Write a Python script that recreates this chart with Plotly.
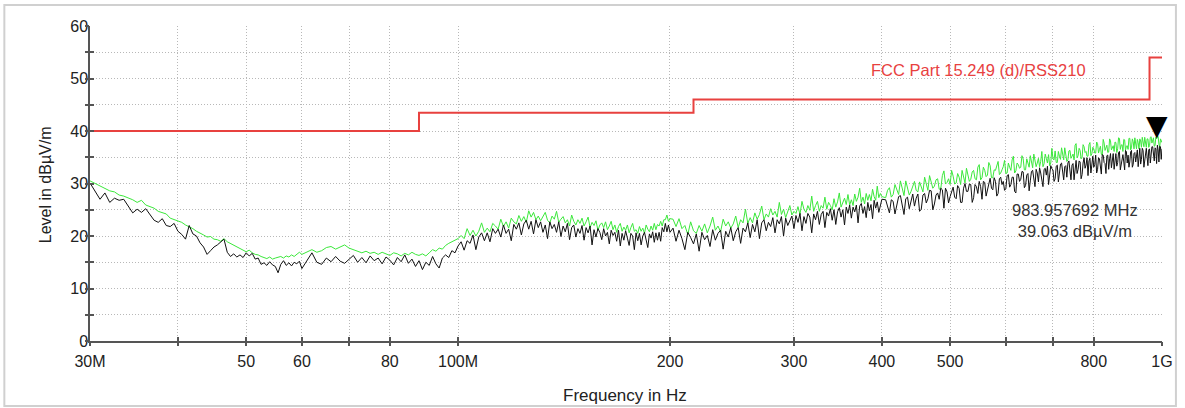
import math
import plotly.graph_objects as go

# ---- sweep frequencies (MHz), split into bands ----
FREQ_BAND1 = [30, 30.5, 31, 31.5, 32, 32.5, 33, 33.5, 34, 34.5,
              35, 35.5, 36, 36.5, 37, 37.5, 38, 38.5, 39, 39.5,
              40, 40.5, 41, 41.5, 42, 42.5, 43, 43.5, 44, 44.5,
              45, 45.5, 46, 46.5, 47, 47.5, 48, 48.5, 49, 49.5,
              50, 50.5, 51, 51.5, 52, 52.5, 53, 53.5, 54, 54.5,
              55, 55.5, 56, 56.5, 57, 57.5, 58, 58.5, 59, 59.5,
              60]
FREQ_BAND2 = [61, 62, 63, 64, 65, 66, 67, 68, 69, 70,
              71, 72, 73, 74, 75, 76, 77, 78, 79, 80,
              81, 82, 83, 84, 85, 86, 87, 88, 89, 90,
              91, 92, 93, 94, 95, 96, 97, 98, 99, 100]
FREQ_BAND3 = [101, 102, 103, 104, 105, 106, 107, 108, 109, 110,
              111, 112, 113, 114, 115, 116, 117, 118, 119, 120,
              121, 122, 123, 124, 125, 126, 127, 128, 129, 130,
              131, 132, 133, 134, 135, 136, 137, 138, 139, 140,
              141, 142, 143, 144, 145, 146, 147, 148, 149, 150,
              151, 152, 153, 154, 155, 156, 157, 158, 159, 160,
              161, 162, 163, 164, 165, 166, 167, 168, 169, 170,
              171, 172, 173, 174, 175, 176, 177, 178, 179, 180,
              181, 182, 183, 184, 185, 186, 187, 188, 189, 190,
              191, 192, 193, 194, 195, 196, 197, 198, 199, 200]
FREQ_BAND4 = [202, 204, 206, 208, 210, 212, 214, 216, 218, 220,
              222, 224, 226, 228, 230, 232, 234, 236, 238, 240,
              242, 244, 246, 248, 250, 252, 254, 256, 258, 260,
              262, 264, 266, 268, 270, 272, 274, 276, 278, 280,
              282, 284, 286, 288, 290, 292, 294, 296, 298, 300,
              302, 304, 306, 308, 310, 312, 314, 316, 318, 320,
              322, 324, 326, 328, 330, 332, 334, 336, 338, 340,
              342, 344, 346, 348, 350, 352, 354, 356, 358, 360,
              362, 364, 366, 368, 370, 372, 374, 376, 378, 380,
              382, 384, 386, 388, 390, 392, 394, 396, 398, 400]
FREQ_BAND5 = [405, 410, 415, 420, 425, 430, 435, 440, 445, 450,
              455, 460, 465, 470, 475, 480, 485, 490, 495, 500,
              505, 510, 515, 520, 525, 530, 535, 540, 545, 550,
              555, 560, 565, 570, 575, 580, 585, 590, 595, 600,
              605, 610, 615, 620, 625, 630, 635, 640, 645, 650,
              655, 660, 665, 670, 675, 680, 685, 690, 695, 700,
              705, 710, 715, 720, 725, 730, 735, 740, 745, 750,
              755, 760, 765, 770, 775, 780, 785, 790, 795, 800,
              805, 810, 815, 820, 825, 830, 835, 840, 845, 850,
              855, 860, 865, 870, 875, 880, 885, 890, 895, 900,
              905, 910, 915, 920, 925, 930, 935, 940, 945, 950,
              955, 960, 965, 970, 975, 980, 985, 990, 995, 1000]
FREQ_BAND6 = [407.5, 412.5, 417.5, 422.5, 427.5, 432.5, 437.5, 442.5, 447.5, 452.5,
              457.5, 462.5, 467.5, 472.5, 477.5, 482.5, 487.5, 492.5, 497.5, 502.5,
              507.5, 512.5, 517.5, 522.5, 527.5, 532.5, 537.5, 542.5, 547.5, 552.5,
              557.5, 562.5, 567.5, 572.5, 577.5, 582.5, 587.5, 592.5, 597.5, 602.5,
              607.5, 612.5, 617.5, 622.5, 627.5, 632.5, 637.5, 642.5, 647.5, 652.5,
              657.5, 662.5, 667.5, 672.5, 677.5, 682.5, 687.5, 692.5, 697.5, 702.5,
              707.5, 712.5, 717.5, 722.5, 727.5, 732.5, 737.5, 742.5, 747.5, 752.5,
              757.5, 762.5, 767.5, 772.5, 777.5, 782.5, 787.5, 792.5, 797.5, 802.5,
              807.5, 812.5, 817.5, 822.5, 827.5, 832.5, 837.5, 842.5, 847.5, 852.5,
              857.5, 862.5, 867.5, 872.5, 877.5, 882.5, 887.5, 892.5, 897.5, 902.5,
              907.5, 912.5, 917.5, 922.5, 927.5, 932.5, 937.5, 942.5, 947.5, 952.5,
              957.5, 962.5, 967.5, 972.5, 977.5, 982.5, 987.5, 992.5, 997.5]

# ---- measured level, black trace (dBµV/m) ----
BLACK_BAND1 = [30.1, 28.4, 27.0, 28.2, 26.4, 27.2, 26.8, 27.0, 25.6, 24.4,
               25.1, 24.5, 25.2, 24.1, 23.0, 22.6, 23.3, 22.0, 21.8, 22.4,
               20.9, 20.3, 19.4, 22.0, 20.4, 20.0, 18.7, 17.9, 16.5, 17.2,
               17.9, 18.3, 18.8, 19.4, 16.9, 16.1, 16.6, 16.0, 16.4, 15.9,
               16.8, 16.2, 16.7, 15.6, 15.8, 14.6, 14.9, 14.4, 15.1, 14.5,
               14.2, 13.0, 14.6, 15.3, 14.4, 14.9, 14.3, 15.0, 14.7, 15.2,
               13.8]
BLACK_BAND2 = [15.4, 16.8, 15.0, 14.6, 15.8, 15.1, 16.1, 15.2, 14.8, 15.6,
               16.3, 15.0, 15.9, 14.9, 16.2, 15.3, 15.8, 14.7, 16.0, 15.4,
               14.5, 15.9, 15.1, 16.4, 14.8, 15.6, 14.2, 15.3, 13.6, 15.0,
               14.4, 16.1, 14.7, 13.9, 15.8, 16.4, 15.9, 17.2, 16.8, 18.1]
BLACK_BAND3 = [18.9, 17.3, 19.1, 18.6, 20.2, 17.4, 19.8, 20.6, 19.1, 20.6,
               18.9, 21.4, 20.5, 21.3, 19.8, 22.1, 20.5, 21.3, 19.1, 22.2,
               21.3, 22.5, 20.2, 22.3, 23.0, 21.3, 22.8, 20.4, 23.1, 21.6,
               22.7, 20.7, 22.1, 19.5, 22.7, 21.4, 22.2, 20.7, 22.7, 19.9,
               21.9, 20.8, 22.4, 19.3, 21.6, 22.1, 19.8, 21.4, 20.5, 22.0,
               19.2, 21.6, 20.6, 21.9, 18.3, 21.2, 19.8, 21.4, 20.7, 19.3,
               21.4, 20.0, 20.7, 18.5, 21.1, 20.1, 20.7, 19.0, 21.1, 18.1,
               20.5, 19.2, 21.0, 19.6, 18.2, 20.5, 20.0, 17.4, 20.6, 19.1,
               20.5, 18.3, 20.0, 20.7, 19.0, 17.8, 20.4, 19.6, 20.8, 18.8,
               20.6, 19.2, 20.7, 19.0, 21.6, 20.8, 22.4, 20.8, 22.1, 20.7]
BLACK_BAND4 = [21.5, 19.0, 21.1, 19.5, 17.4, 20.7, 19.7, 18.5, 20.4, 17.1,
               20.7, 19.3, 20.1, 18.0, 21.2, 19.2, 20.5, 21.1, 17.5, 20.9,
               19.8, 21.6, 19.1, 20.8, 21.6, 18.6, 21.5, 20.8, 22.5, 19.7,
               22.2, 20.8, 23.1, 19.5, 22.5, 23.1, 21.0, 22.6, 21.8, 23.5,
               20.6, 23.1, 22.3, 23.7, 20.0, 23.4, 22.0, 23.1, 23.8, 21.4,
               23.9, 22.6, 24.3, 21.0, 23.7, 22.4, 24.3, 23.6, 20.6, 24.2,
               23.1, 24.7, 22.2, 24.1, 24.7, 21.6, 24.5, 23.8, 25.2, 23.0,
               25.0, 22.2, 24.6, 25.4, 23.6, 25.0, 22.1, 25.5, 24.3, 25.9,
               23.4, 25.5, 24.6, 25.9, 22.5, 25.7, 26.2, 24.3, 25.6, 23.5,
               26.4, 24.8, 26.0, 23.3, 26.8, 25.3, 26.5, 24.5, 26.1, 27.0]
BLACK_BAND5 = [26.9, 24.4, 26.6, 25.8, 27.7, 24.1, 27.4, 26.9, 25.7, 28.0,
               25.1, 28.1, 27.1, 28.6, 26.1, 28.2, 29.1, 25.3, 28.4, 27.5,
               29.3, 27.1, 29.1, 26.4, 30.0, 28.5, 29.8, 27.3, 29.4, 30.4,
               27.0, 30.2, 29.1, 31.0, 28.8, 30.4, 28.1, 31.2, 30.4, 29.0,
               31.7, 29.8, 31.2, 28.2, 31.8, 30.8, 32.2, 29.6, 31.9, 30.5,
               32.5, 29.4, 32.0, 33.0, 30.6, 32.7, 31.6, 29.8, 33.4, 32.6,
               30.9, 33.5, 32.1, 33.9, 30.7, 33.4, 33.9, 31.9, 33.5, 30.7,
               34.4, 32.7, 34.1, 31.7, 34.9, 33.5, 31.5, 34.8, 34.2, 33.1,
               35.4, 32.7, 34.7, 31.8, 35.4, 33.8, 35.3, 32.7, 35.7, 34.3,
               32.7, 35.7, 34.0, 36.1, 33.6, 35.5, 32.6, 36.1, 35.4, 34.1,
               36.3, 33.6, 35.9, 34.9, 33.2, 36.7, 34.6, 36.3, 34.2, 36.7,
               33.4, 36.6, 35.4, 37.0, 34.3, 36.6, 37.3, 34.1, 37.0, 36.6]
BLACK_BAND6 = [25.6, 26.9, 24.2, 27.5, 25.6, 27.1, 25.2, 28.0, 27.2, 24.7,
               27.8, 26.3, 28.7, 25.0, 27.8, 27.0, 28.8, 29.1, 26.3, 28.6,
               27.4, 29.6, 26.4, 29.1, 28.5, 29.9, 26.4, 29.8, 28.1, 29.4,
               30.4, 27.6, 29.9, 29.1, 31.1, 27.6, 30.9, 29.8, 28.7, 31.5,
               29.3, 31.2, 28.5, 31.8, 30.4, 32.3, 29.2, 31.6, 28.6, 32.3,
               31.2, 32.7, 30.3, 32.0, 29.4, 32.9, 33.3, 31.2, 32.8, 30.4,
               33.3, 30.3, 33.7, 32.1, 33.2, 31.2, 34.3, 30.7, 33.8, 33.5,
               31.9, 34.3, 30.9, 33.9, 32.9, 34.9, 34.3, 32.0, 35.2, 33.6,
               32.0, 34.9, 33.3, 35.5, 34.0, 31.9, 35.4, 34.7, 33.0, 35.7,
               35.2, 33.3, 35.9, 32.6, 35.2, 34.1, 36.3, 33.9, 33.1, 36.0,
               33.1, 35.7, 34.1, 36.4, 36.0, 33.7, 36.7, 33.1, 35.9, 35.0,
               36.4, 33.9, 37.0, 35.1, 36.8, 33.8, 36.4, 37.1, 34.6]

# ---- measured level, green trace (dBµV/m) ----
GREEN_BAND1 = [30.5, 30.0, 29.6, 29.1, 28.6, 28.4, 27.8, 27.6, 27.3, 26.9,
               26.4, 26.8, 25.9, 25.6, 25.3, 24.7, 24.4, 24.2, 23.4, 23.1,
               22.9, 22.6, 22.1, 21.8, 21.4, 20.9, 20.6, 20.2, 19.8, 19.9,
               19.4, 19.3, 19.0, 19.5, 18.9, 18.6, 18.3, 18.0, 17.6, 17.4,
               17.0, 17.3, 16.8, 16.5, 16.4, 16.1, 15.9, 15.7, 16.0, 15.6,
               15.8, 15.9, 16.1, 15.8, 16.2, 16.0, 16.4, 16.1, 16.6, 16.9,
               16.5]
GREEN_BAND2 = [17.0, 17.4, 16.9, 17.2, 17.8, 18.0, 17.5, 17.9, 18.3, 17.7,
               17.4, 17.0, 16.8, 17.1, 16.7, 16.9, 16.5, 16.9, 16.6, 16.3,
               16.8, 16.6, 16.2, 16.7, 16.4, 16.9, 16.5, 16.3, 16.6, 16.2,
               16.8, 17.4, 17.1, 17.7, 17.5, 18.2, 18.6, 18.9, 19.3, 19.5]
GREEN_BAND3 = [20.1, 19.5, 21.4, 20.1, 21.1, 20.0, 20.9, 22.5, 20.7, 21.5,
               20.8, 22.4, 21.9, 21.3, 23.2, 21.8, 22.7, 21.5, 23.4, 22.7,
               22.3, 23.9, 22.8, 23.7, 22.6, 24.8, 23.6, 24.5, 23.1, 23.8,
               22.9, 23.8, 24.5, 23.0, 22.5, 23.8, 23.2, 24.7, 22.6, 23.2,
               23.7, 22.5, 23.1, 21.9, 24.0, 22.8, 22.1, 23.1, 22.4, 23.4,
               21.9, 22.7, 23.6, 21.6, 22.6, 22.0, 22.9, 21.1, 22.1, 22.5,
               21.6, 22.7, 21.2, 21.9, 22.8, 21.2, 22.1, 20.7, 21.8, 22.4,
               20.9, 21.7, 21.1, 22.1, 20.6, 21.6, 22.4, 20.9, 21.2, 20.5,
               21.8, 20.9, 21.5, 20.5, 22.1, 21.3, 20.8, 21.9, 21.1, 22.4,
               21.2, 22.2, 21.9, 22.8, 21.9, 23.1, 23.1, 24.0, 22.8, 23.3]
GREEN_BAND4 = [23.2, 21.8, 23.3, 21.4, 22.0, 20.3, 22.7, 21.0, 20.5, 22.0,
               20.9, 22.3, 20.6, 21.9, 23.6, 21.1, 21.9, 20.8, 23.2, 21.9,
               22.7, 21.5, 22.3, 23.8, 21.6, 23.1, 22.5, 25.1, 22.4, 23.5,
               22.5, 24.4, 23.2, 24.1, 25.7, 23.1, 24.2, 23.6, 25.2, 24.0,
               24.7, 23.6, 26.4, 24.1, 25.1, 23.5, 24.8, 25.8, 24.0, 24.7,
               24.3, 25.6, 24.1, 26.6, 25.1, 24.5, 25.8, 24.9, 27.6, 24.7,
               25.8, 26.6, 24.7, 25.8, 25.3, 27.4, 25.1, 26.4, 25.8, 25.0,
               27.1, 25.5, 26.5, 28.2, 25.5, 26.5, 27.2, 26.0, 27.9, 25.9,
               26.9, 25.8, 28.0, 26.6, 27.4, 29.1, 26.4, 27.4, 26.1, 28.1,
               26.8, 27.9, 26.7, 28.9, 27.5, 26.8, 29.5, 27.3, 28.1, 27.5]
GREEN_BAND5 = [27.3, 29.2, 27.9, 28.8, 30.5, 27.7, 29.0, 28.5, 30.4, 28.4,
               29.4, 31.2, 28.7, 30.0, 29.5, 30.9, 29.0, 32.4, 30.2, 29.8,
               31.4, 30.1, 31.2, 32.5, 30.1, 31.2, 30.8, 32.5, 30.7, 33.6,
               31.1, 32.5, 31.6, 33.4, 31.1, 32.5, 34.2, 32.0, 33.2, 31.9,
               33.9, 32.5, 35.2, 32.4, 33.6, 33.1, 34.7, 32.6, 33.8, 35.3,
               33.0, 34.6, 33.9, 33.2, 36.1, 33.8, 34.8, 35.5, 33.9, 34.7,
               36.2, 34.0, 35.2, 36.8, 34.5, 35.8, 34.5, 36.3, 35.2, 34.5,
               37.6, 35.3, 36.3, 35.0, 37.0, 36.1, 35.2, 37.8, 35.7, 36.6,
               35.8, 37.6, 36.5, 35.6, 38.4, 36.3, 37.3, 36.0, 38.1, 36.9,
               36.1, 37.8, 36.6, 38.6, 37.3, 36.1, 38.3, 37.1, 36.5, 38.6,
               36.8, 38.0, 38.7, 36.6, 37.8, 38.5, 36.9, 38.1, 38.8, 36.9,
               38.5, 37.2, 38.9, 38.2, 37.1, 38.8, 39.06, 37.5, 38.5, 37.8]
GREEN_BAND6 = [28.7, 27.4, 29.8, 27.9, 28.8, 30.5, 27.8, 29.4, 28.7, 30.3,
               28.4, 29.8, 31.5, 29.1, 30.7, 28.9, 31.5, 29.9, 30.9, 32.5,
               29.9, 31.9, 29.8, 31.0, 32.9, 30.4, 32.2, 30.9, 33.1, 30.7,
               33.1, 31.3, 34.0, 31.1, 32.6, 33.3, 31.7, 32.6, 34.4, 32.0,
               33.1, 34.5, 32.0, 33.9, 32.9, 35.3, 32.6, 34.7, 33.1, 34.2,
               35.6, 33.2, 34.8, 34.2, 33.2, 35.6, 33.9, 33.4, 36.7, 34.5,
               34.0, 36.1, 34.6, 35.5, 36.8, 34.2, 36.2, 34.8, 35.6, 37.3,
               34.9, 36.7, 34.7, 37.4, 35.9, 35.2, 37.4, 35.3, 36.9, 35.8,
               37.9, 35.8, 37.1, 35.4, 37.7, 36.8, 35.9, 38.5, 36.4, 37.2,
               37.9, 35.9, 38.7, 36.5, 37.4, 38.4, 36.3, 37.2, 38.6, 36.4,
               38.5, 36.6, 37.5, 38.4, 36.6, 38.1, 38.8, 37.0, 37.6, 38.5,
               36.9, 38.8, 37.7, 38.7, 37.2, 38.5, 38.9, 36.9, 38.2]

# ---- limit line FCC Part 15.249 (d) / RSS210 ----
LIMIT_FREQ = [30, 88, 216, 960, 1000]
LIMIT_LEVEL = [40, 43.5, 46, 54, 54]
LIMIT_NAME = "FCC Part 15.249 (d)/RSS210"

# ---- marker ----
MARKER_FREQ = 983.957692
MARKER_LEVEL = 39.063

# ---- axis ticks ----
X_TICKS = [30, 40, 50, 60, 70, 80, 100, 200, 300, 400, 500, 600, 700, 800, 1000]
X_LABELS = ["30M", "", "50", "60", "", "80", "100M", "200", "300", "400", "500", "", "", "800", "1G"]
Y_TICKS = [0, 5, 10, 15, 20, 25, 30, 35, 40, 45, 50, 55, 60]
Y_LABELS = ["0", "", "10", "", "20", "", "30", "", "40", "", "50", "", "60"]

# merge the bands into one sweep ordered by frequency
rows = sorted(zip(
    FREQ_BAND1 + FREQ_BAND2 + FREQ_BAND3 + FREQ_BAND4 + FREQ_BAND5 + FREQ_BAND6,
    BLACK_BAND1 + BLACK_BAND2 + BLACK_BAND3 + BLACK_BAND4 + BLACK_BAND5 + BLACK_BAND6,
    GREEN_BAND1 + GREEN_BAND2 + GREEN_BAND3 + GREEN_BAND4 + GREEN_BAND5 + GREEN_BAND6,
))
freq = [r[0] for r in rows]
black = [r[1] for r in rows]
green = [r[2] for r in rows]

RED = "#e8413f"
AXIS = "#555555"
FONT = "Liberation Sans, Arial, sans-serif"
X_RANGE = [math.log10(30), math.log10(1000)]
Y_RANGE = [0, 60]

fig = go.Figure()
fig.add_trace(go.Scatter(x=LIMIT_FREQ, y=LIMIT_LEVEL, mode="lines", line_shape="hv",
                         line=dict(color=RED, width=2), hoverinfo="skip"))
fig.add_trace(go.Scatter(x=freq, y=green, mode="lines",
                         line=dict(color="#3be83b", width=1)))
fig.add_trace(go.Scatter(x=freq, y=black, mode="lines",
                         line=dict(color="#111111", width=1)))
# empty trace that carries the outer tick axes
fig.add_trace(go.Scatter(x=[], y=[], xaxis="x2", yaxis="y2", mode="lines", hoverinfo="skip"))

grid = dict(showgrid=True, gridcolor="#b8b8b8", griddash="1px,2px", gridwidth=1, zeroline=False)

fig.update_layout(
    width=1185, height=408,
    margin=dict(l=90, r=18, t=26, b=67),
    paper_bgcolor="white", plot_bgcolor="white",
    showlegend=False,
    font=dict(family=FONT, color="#222222"),
    xaxis=dict(type="log", range=X_RANGE, tickmode="array", tickvals=X_TICKS, ticktext=X_LABELS,
               showline=True, linecolor=AXIS, linewidth=1.5,
               ticks="inside", ticklen=4, tickcolor=AXIS, tickwidth=1.5, ticklabelstandoff=5,
               tickfont=dict(size=16, color="#222222", family=FONT), **grid),
    yaxis=dict(range=Y_RANGE, tickmode="array", tickvals=Y_TICKS, ticktext=Y_LABELS,
               showline=True, linecolor=AXIS, linewidth=1.5,
               ticks="inside", ticklen=4, tickcolor=AXIS, tickwidth=1.5, ticklabelstandoff=-3,
               tickfont=dict(size=16, color="#222222", family=FONT), **grid),
    xaxis2=dict(type="log", range=X_RANGE, overlaying="x", anchor="y", side="bottom",
                tickmode="array", tickvals=X_TICKS, showticklabels=False,
                ticks="outside", ticklen=4, tickcolor=AXIS, tickwidth=1.5,
                showgrid=False, showline=False, zeroline=False),
    yaxis2=dict(range=Y_RANGE, overlaying="y", anchor="x", side="left",
                tickmode="array", tickvals=Y_TICKS, showticklabels=False,
                ticks="outside", ticklen=4, tickcolor=AXIS, tickwidth=1.5,
                showgrid=False, showline=False, zeroline=False),
)

annotations = [
    dict(text="Level in dBµV/m", textangle=-90, xref="paper", yref="paper",
         x=-0.0418, y=0.495, xanchor="center", yanchor="middle", showarrow=False,
         font=dict(size=16, color="#222222")),
    dict(text="Frequency in Hz", xref="paper", yref="paper", x=0.4995, y=-0.2095,
         xanchor="center", yanchor="bottom", showarrow=False,
         font=dict(size=17, color="#222222")),
    dict(text=LIMIT_NAME, xref="paper", yref="paper", x=0.829, y=0.860,
         xanchor="center", yanchor="middle", showarrow=False,
         font=dict(size=16.5, color=RED)),
    dict(text=f"{MARKER_FREQ:.6f} MHz<br>{MARKER_LEVEL:.3f} dBµV/m", xref="paper", yref="paper",
         x=0.919, y=0.384, xanchor="center", yanchor="middle", showarrow=False, align="center",
         font=dict(size=16.5, color="#333333")),
    dict(text="▼", x=math.log10(MARKER_FREQ), y=MARKER_LEVEL, xref="x", yref="y",
         xanchor="center", yanchor="bottom", showarrow=False, yshift=-8,
         font=dict(size=28, color="#000000", family="DejaVu Sans")),
]
fig.update_layout(annotations=annotations)

# thin frame around the whole graphic
fig.add_shape(type="rect", xref="paper", yref="paper",
              x0=-0.0799, x1=1.013, y0=-0.2063, y1=1.0667,
              line=dict(color="#d0d0d0", width=2), fillcolor="rgba(0,0,0,0)", layer="below")

fig.write_html("out.html")
